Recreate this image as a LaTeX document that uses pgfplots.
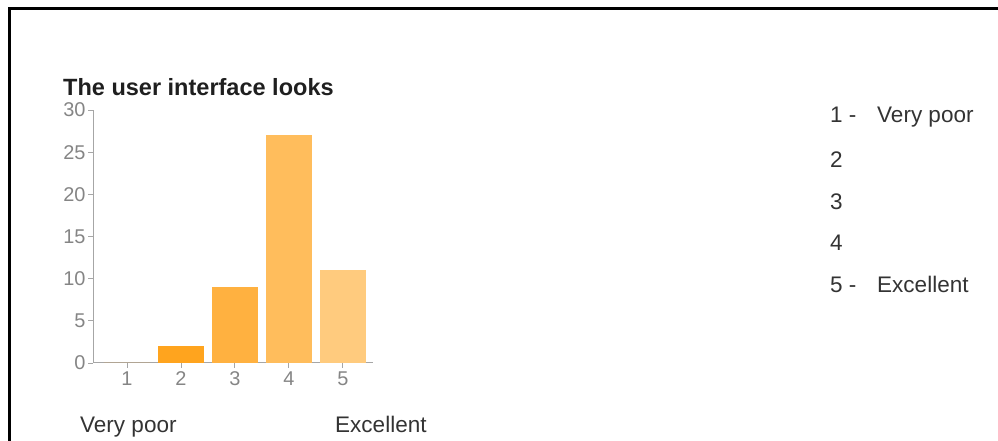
\documentclass[border=0pt]{standalone}
\usepackage{pgfplots}
\pgfplotsset{compat=1.18}
\usepackage{fontspec}
\setmainfont{Liberation Sans}
\definecolor{axisgray}{HTML}{A6A6A6}
\definecolor{ticktext}{HTML}{858585}
\definecolor{barA}{HTML}{FFA41E}
\definecolor{barB}{HTML}{FFB140}
\definecolor{barC}{HTML}{FFBD5C}
\definecolor{barD}{HTML}{FFCB7E}
\begin{document}
\begin{tikzpicture}[x=1bp,y=1bp]
\path[use as bounding box] (0,0) rectangle (998,441);
\draw[line width=2.5bp, black] (9.3,-2) -- (9.3,432.5) -- (1000,432.5);
\begin{axis}[
  at={(93bp,78bp)}, anchor=south west,
  scale only axis, width=280bp, height=253bp,
  xmin=0.37, xmax=5.56, ymin=0, ymax=30,
  axis x line=bottom, axis y line=left,
  axis line style={draw=axisgray, line width=1bp, -},
  xtick={1,2,3,4,5}, ytick={0,5,10,15,20,25,30},
  tick align=outside, major tick length=5bp,
  tick style={draw=axisgray, line width=0.8bp},
  tick label style={font=\fontsize{20}{22}\selectfont, text=ticktext},
  yticklabel style={xshift=1bp},
  /pgf/number format/assume math mode=true,
  ybar, bar width=46bp,
  every axis plot/.append style={draw=none, bar shift=0pt},
]
\addplot[fill=barA] coordinates {(1,0)};
\addplot[fill=barA] coordinates {(2,2)};
\addplot[fill=barB] coordinates {(3,9)};
\addplot[fill=barC] coordinates {(4,27)};
\addplot[fill=barD] coordinates {(5,11)};
\end{axis}
\node[anchor=base west, inner sep=0, text=black!88, font=\bfseries\fontsize{23.6}{28}\selectfont] at (63,345) {The user interface looks};
\begin{scope}[every node/.style={anchor=base west, inner sep=0, text=black!80, font=\fontsize{22.6}{26}\selectfont}]
\node at (80,8) {Very poor};
\node at (335,8) {Excellent};
\node at (830,318) {1 -};
\node at (877,318) {Very poor};
\node at (830,273) {2};
\node at (830,231) {3};
\node at (830,190) {4};
\node at (830,148) {5 -};
\node at (877,148) {Excellent};
\end{scope}
\end{tikzpicture}
\end{document}
